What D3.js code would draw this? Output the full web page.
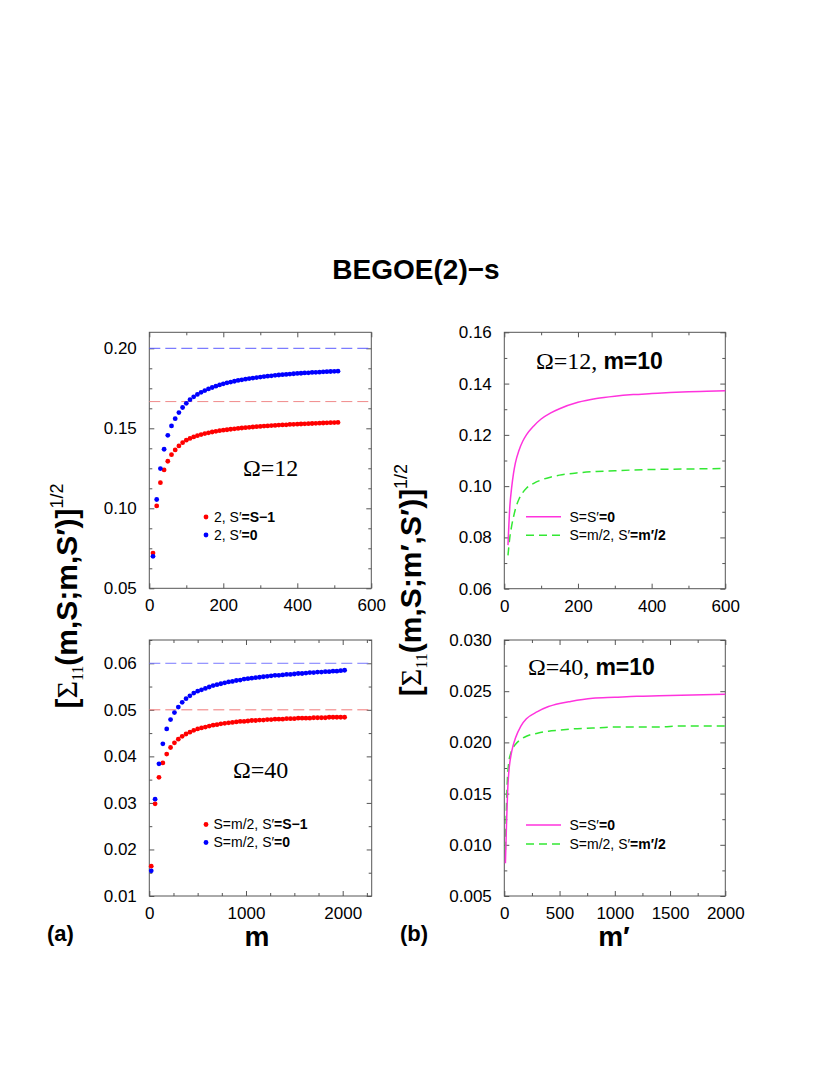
<!DOCTYPE html>
<html>
<head>
<meta charset="utf-8">
<script src="https://cdn.jsdelivr.net/npm/d3@7"></script>
<style>
  body { margin: 0; background: #fff; }
  svg { display: block; }
</style>
</head>
<body>
<div id="chart"></div>
<script>
// ---- data ----
// (a) upper: Omega=12, points vs m
var mTop = [10,20,30,40,50,60,70,80,90,100,110,120,130,140,150,160,170,180,190,200,
            210,220,230,240,250,260,270,280,290,300,310,320,330,340,350,360,370,380,390,400,
            410,420,430,440,450,460,470,480,490,500,510];
var sMinus1Top = [0.0720,0.1015,0.1160,0.1240,0.1294,0.1335,0.1365,0.1390,0.1410,0.1426,
                  0.1437,0.1446,0.1454,0.1461,0.1467,0.1472,0.1477,0.1481,0.1485,0.1488,
                  0.1491,0.1494,0.1497,0.1499,0.1502,0.1504,0.1506,0.1508,0.1510,0.1512,
                  0.1514,0.1515,0.1517,0.1518,0.1520,0.1521,0.1522,0.1524,0.1525,0.1526,
                  0.1527,0.1528,0.1529,0.1530,0.1531,0.1532,0.1533,0.1534,0.1535,0.1536,0.1537];
var s0Top = [0.0700,0.1055,0.1248,0.1369,0.1456,0.1515,0.1560,0.1598,0.1630,0.1656,
             0.1679,0.1697,0.1712,0.1725,0.1736,0.1746,0.1755,0.1763,0.1771,0.1778,
             0.1784,0.1789,0.1794,0.1799,0.1803,0.1807,0.1811,0.1814,0.1817,0.1820,
             0.1823,0.1826,0.1828,0.1831,0.1833,0.1835,0.1837,0.1839,0.1841,0.1843,
             0.1844,0.1846,0.1847,0.1849,0.1850,0.1851,0.1853,0.1854,0.1855,0.1856,0.1857];
var limitsTop = [0.20, 0.1667];

// (a) lower: Omega=40
var mBottom = [20,60,100,140,180,220,260,300,340,380,420,460,500,540,580,620,660,700,740,780,
               820,860,900,940,980,1020,1060,1100,1140,1180,1220,1260,1300,1340,1380,1420,1460,1500,1540,1580,
               1620,1660,1700,1740,1780,1820,1860,1900,1940,1980,2020];
var sMinus1Bottom = [0.0164,0.0298,0.0355,0.0386,0.0405,0.0419,0.0429,0.0437,0.0443,0.0448,
                     0.0452,0.0456,0.0459,0.0461,0.0463,0.0465,0.0467,0.0468,0.0470,0.0471,
                     0.0472,0.0473,0.0474,0.0475,0.0475,0.0476,0.0477,0.0477,0.0478,0.0478,
                     0.0479,0.0479,0.0480,0.0480,0.0480,0.0481,0.0481,0.0481,0.0482,0.0482,
                     0.0482,0.0482,0.0483,0.0483,0.0483,0.0483,0.0484,0.0484,0.0484,0.0484,0.0484];
var s0Bottom = [0.0154,0.0308,0.0384,0.0427,0.0459,0.0479,0.0494,0.0506,0.0516,0.0524,
                0.0530,0.0536,0.0540,0.0543,0.0546,0.0549,0.0552,0.0554,0.0556,0.0558,
                0.0560,0.0561,0.0563,0.0564,0.0566,0.0567,0.0568,0.0569,0.0570,0.0571,
                0.0572,0.0573,0.0574,0.0574,0.0575,0.0576,0.0576,0.0577,0.0578,0.0578,
                0.0579,0.0580,0.0580,0.0581,0.0581,0.0582,0.0582,0.0583,0.0583,0.0584,0.0585];
var limitsBottom = [0.06, 0.05];

// (b) upper: Omega=12, m=10, curves vs m'
var mpTop = [10,15,20,25,30,40,50,60,80,100,125,150,200,250,300,350,400,450,500,550,600];
var sEqTop = [0.0770,0.0920,0.0995,0.1050,0.1090,0.1140,0.1175,0.1200,0.1235,0.1262,0.1285,
              0.1302,0.1327,0.1342,0.1351,0.1357,0.1361,0.1365,0.1368,0.1370,0.1372];
var halfTop = [0.0730,0.0800,0.0845,0.0880,0.0910,0.0950,0.0975,0.0992,0.1011,0.1024,0.1035,
               0.1043,0.1052,0.1057,0.1060,0.1063,0.1065,0.1066,0.1067,0.1068,0.1069];

// (b) lower: Omega=40, m=10
var mpBottom = [10,20,30,40,60,80,100,150,200,300,400,500,600,800,1000,1200,1400,1600,1800,2000];
var sEqBottom = [0.0082,0.0120,0.0152,0.0170,0.0187,0.0197,0.0204,0.0216,0.0223,0.0230,
                 0.0235,0.0238,0.0240,0.0243,0.0244,0.0245,0.02455,0.0246,0.02465,0.0247];
var halfBottom = [0.0095,0.0140,0.0168,0.0180,0.0190,0.0195,0.0198,0.0203,0.0206,0.0209,
                  0.0211,0.0212,0.0213,0.0214,0.0215,0.0215,0.0215,0.0216,0.0216,0.0216];

// ---- drawing ----
var width = 830, height = 1075;
var sans = "'Liberation Sans', Arial, Helvetica, sans-serif";
var serif = "'Liberation Serif', 'Times New Roman', serif";
var frameColor = "#555";

var svg = d3.select("#chart").append("svg")
    .attr("width", width)
    .attr("height", height)
    .style("font-family", sans);

function ticksBetween(d, step) {
  // tick positions at multiples of step inside the domain
  var out = [];
  var n0 = Math.ceil(d[0] / step - 1e-9), n1 = Math.floor(d[1] / step + 1e-9);
  for (var i = n0; i <= n1; i++) out.push(+(i * step).toFixed(6));
  return out;
}

function panel(cfg) {
  var g = svg.append("g");
  var x = d3.scaleLinear().domain(cfg.xDomain).range([cfg.left, cfg.left + cfg.w]);
  var y = d3.scaleLinear().domain(cfg.yDomain).range([cfg.top + cfg.h, cfg.top]);

  var xMaj = ticksBetween(cfg.xDomain, cfg.xStep);
  var xMin = ticksBetween(cfg.xDomain, cfg.xMinor).filter(function(v) { return xMaj.indexOf(v) < 0; });
  var yMaj = ticksBetween(cfg.yDomain, cfg.yStep);
  var yMin = ticksBetween(cfg.yDomain, cfg.yMinor).filter(function(v) {
    return !yMaj.some(function(t) { return Math.abs(t - v) < 1e-7; });
  });

  function style(sel) {
    sel.select(".domain").remove();
    sel.selectAll("line").attr("stroke", frameColor);
    sel.selectAll("text").attr("fill", "#000");
    sel.attr("font-family", sans).attr("font-size", 17);
  }

  // labelled axes
  g.append("g").attr("transform", "translate(0," + (cfg.top + cfg.h) + ")")
    .call(d3.axisBottom(x).tickValues(xMaj).tickSize(-5).tickPadding(11).tickFormat(d3.format("d")))
    .call(style);
  g.append("g").attr("transform", "translate(" + cfg.left + ",0)")
    .call(d3.axisLeft(y).tickValues(yMaj).tickSize(-5).tickPadding(12.5).tickFormat(d3.format(cfg.yFmt)))
    .call(style);
  // minor ticks
  g.append("g").attr("transform", "translate(0," + (cfg.top + cfg.h) + ")")
    .call(d3.axisBottom(x).tickValues(xMin).tickSize(-3).tickFormat("")).call(style);
  g.append("g").attr("transform", "translate(" + cfg.left + ",0)")
    .call(d3.axisLeft(y).tickValues(yMin).tickSize(-3).tickFormat("")).call(style);
  // mirrored ticks on top and right
  g.append("g").attr("transform", "translate(0," + cfg.top + ")")
    .call(d3.axisTop(x).tickValues(xMaj).tickSize(-5).tickFormat("")).call(style);
  g.append("g").attr("transform", "translate(0," + cfg.top + ")")
    .call(d3.axisTop(x).tickValues(xMin).tickSize(-3).tickFormat("")).call(style);
  g.append("g").attr("transform", "translate(" + (cfg.left + cfg.w) + ",0)")
    .call(d3.axisRight(y).tickValues(yMaj).tickSize(-5).tickFormat("")).call(style);
  g.append("g").attr("transform", "translate(" + (cfg.left + cfg.w) + ",0)")
    .call(d3.axisRight(y).tickValues(yMin).tickSize(-3).tickFormat("")).call(style);

  g.append("rect")
    .attr("x", cfg.left).attr("y", cfg.top)
    .attr("width", cfg.w).attr("height", cfg.h)
    .attr("fill", "none").attr("stroke", frameColor).attr("stroke-width", 1);

  return { g: g, x: x, y: y };
}

function limitLines(p, values, colors) {
  p.g.selectAll("line.limit")
    .data(values)
    .enter().append("line")
    .attr("class", "limit")
    .attr("x1", p.x.range()[0]).attr("x2", p.x.range()[1])
    .attr("y1", function(d) { return p.y(d); })
    .attr("y2", function(d) { return p.y(d); })
    .attr("stroke", function(d, i) { return colors[i]; })
    .attr("stroke-width", 1)
    .attr("stroke-dasharray", "11,5");
}

function dots(p, xs, ys, color) {
  p.g.append("g").selectAll("circle")
    .data(xs)
    .enter().append("circle")
    .attr("cx", function(d) { return p.x(d); })
    .attr("cy", function(d, i) { return p.y(ys[i]); })
    .attr("r", 2.4)
    .style("fill", color);
}

function curve(p, xs, ys, color, dash) {
  var line = d3.line()
    .x(function(d) { return p.x(d); })
    .y(function(d, i) { return p.y(ys[i]); })
    .curve(d3.curveMonotoneX);
  p.g.append("path")
    .datum(xs)
    .attr("d", line)
    .attr("fill", "none")
    .attr("stroke", color)
    .attr("stroke-width", 1.5)
    .attr("stroke-dasharray", dash || null);
}

// legend entry text made of parts [text, bold?]
function legendText(x, y, parts) {
  var t = svg.append("text").attr("x", x).attr("y", y).attr("font-size", 14).attr("fill", "#000");
  parts.forEach(function(p) {
    t.append("tspan").attr("font-weight", p[1] ? "bold" : "normal").text(p[0]);
  });
}

function omegaLabel(x, y, omega, mPart) {
  var t = svg.append("text").attr("x", x).attr("y", y).attr("fill", "#000");
  t.append("tspan").attr("font-family", serif).attr("font-size", 24).text(omega);
  if (mPart) {
    t.append("tspan").attr("font-family", sans).attr("font-weight", "bold").attr("font-size", 23).text(mPart);
  }
}

var red = "#ff0000", blue = "#0000ff", pink = "#ff33dd", green = "#33e833";

// ---- (a) upper ----
var pA = panel({ left: 149.3, top: 332.3, w: 222, h: 256,
  xDomain: [0, 600], xStep: 200, xMinor: 100,
  yDomain: [0.05, 0.21], yStep: 0.05, yMinor: 0.0125, yFmt: ".2f" });
limitLines(pA, limitsTop, ["#5a5aff", "#f08a8a"]);
dots(pA, mTop, sMinus1Top, red);
dots(pA, mTop, s0Top, blue);
omegaLabel(243, 476, "\u03A9=12");
svg.append("circle").attr("cx", 206).attr("cy", 517).attr("r", 2.4).style("fill", red);
legendText(214, 522, [["2, S\u2032", false], ["=S\u22121", true]]);
svg.append("circle").attr("cx", 206).attr("cy", 535).attr("r", 2.4).style("fill", blue);
legendText(214, 540, [["2, S\u2032", false], ["=0", true]]);

// ---- (a) lower ----
var pC = panel({ left: 149.3, top: 640, w: 222.4, h: 256,
  xDomain: [0, 2300], xStep: 1000, xMinor: 250,
  yDomain: [0.01, 0.065], yStep: 0.01, yMinor: 0.005, yFmt: ".2f" });
limitLines(pC, limitsBottom, ["#7878ff", "#f07878"]);
dots(pC, mBottom, sMinus1Bottom, red);
dots(pC, mBottom, s0Bottom, blue);
omegaLabel(233, 778, "\u03A9=40");
svg.append("circle").attr("cx", 206).attr("cy", 824.5).attr("r", 2.4).style("fill", red);
legendText(213.5, 829, [["S=m/2, S\u2032", false], ["=S\u22121", true]]);
svg.append("circle").attr("cx", 206).attr("cy", 842.5).attr("r", 2.4).style("fill", blue);
legendText(213.5, 847, [["S=m/2, S\u2032", false], ["=0", true]]);

// ---- (b) upper ----
var pB = panel({ left: 504.3, top: 332.3, w: 221, h: 256.4,
  xDomain: [0, 600], xStep: 200, xMinor: 100,
  yDomain: [0.06, 0.16], yStep: 0.02, yMinor: 0.01, yFmt: ".2f" });
curve(pB, mpTop, halfTop, green, "8,5");
curve(pB, mpTop, sEqTop, pink);
omegaLabel(536, 369, "\u03A9=12, ", "m=10");
svg.append("line").attr("x1", 526).attr("x2", 561).attr("y1", 516.7).attr("y2", 516.7)
  .attr("stroke", pink).attr("stroke-width", 1.5);
legendText(569.5, 521.5, [["S=S\u2032", false], ["=0", true]]);
svg.append("line").attr("x1", 526).attr("x2", 561).attr("y1", 535.3).attr("y2", 535.3)
  .attr("stroke", green).attr("stroke-width", 1.5).attr("stroke-dasharray", "8,5");
legendText(569.5, 540, [["S=m/2, S\u2032", false], ["=m\u2032/2", true]]);

// ---- (b) lower ----
var pD = panel({ left: 504.3, top: 640, w: 221, h: 256,
  xDomain: [0, 2000], xStep: 500, xMinor: 250,
  yDomain: [0.005, 0.030], yStep: 0.005, yMinor: 0.0025, yFmt: ".3f" });
curve(pD, mpBottom, halfBottom, green, "8,5");
curve(pD, mpBottom, sEqBottom, pink);
omegaLabel(528, 675, "\u03A9=40, ", "m=10");
svg.append("line").attr("x1", 526).attr("x2", 561).attr("y1", 825).attr("y2", 825)
  .attr("stroke", pink).attr("stroke-width", 1.5);
legendText(569.5, 829.5, [["S=S\u2032", false], ["=0", true]]);
svg.append("line").attr("x1", 526).attr("x2", 561).attr("y1", 844).attr("y2", 844)
  .attr("stroke", green).attr("stroke-width", 1.5).attr("stroke-dasharray", "8,5");
legendText(569.5, 848.5, [["S=m/2, S\u2032", false], ["=m\u2032/2", true]]);

// ---- title, axis titles, panel tags ----
svg.append("text").attr("x", 416).attr("y", 279).attr("text-anchor", "middle")
  .attr("font-size", 28).attr("font-weight", "bold").text("BEGOE(2)\u2212s");

function yTitle(x, y, inner) {
  var t = svg.append("text")
    .attr("transform", "translate(" + x + "," + y + ") rotate(-90)")
    .attr("text-anchor", "middle").attr("font-size", 30).attr("font-weight", "bold");
  t.append("tspan").text("[");
  t.append("tspan").attr("font-family", serif).attr("font-weight", "normal").text("\u03A3");
  t.append("tspan").attr("font-family", serif).attr("font-weight", "normal").attr("font-size", 16)
    .attr("dy", 6).text("11");
  t.append("tspan").attr("dy", -6).text(inner);
  t.append("tspan").attr("font-size", 18).attr("font-weight", "normal").attr("dy", -14).text("1/2");
}
yTitle(77, 596, "(m,S;m,S\u2032)]");
yTitle(421, 580, "(m,S;m\u2032,S\u2032)]");

// axis titles sit just under the tick labels
svg.append("text").attr("x", 257).attr("y", 946).attr("text-anchor", "middle")
  .attr("font-size", 28).attr("font-weight", "bold").text("m");
svg.append("text").attr("x", 614).attr("y", 946).attr("text-anchor", "middle")
  .attr("font-size", 28).attr("font-weight", "bold").text("m\u2032");
svg.append("text").attr("x", 47).attr("y", 941)
  .attr("font-size", 22).attr("font-weight", "bold").text("(a)");
svg.append("text").attr("x", 400).attr("y", 941)
  .attr("font-size", 22).attr("font-weight", "bold").text("(b)");
</script>
</body>
</html>
